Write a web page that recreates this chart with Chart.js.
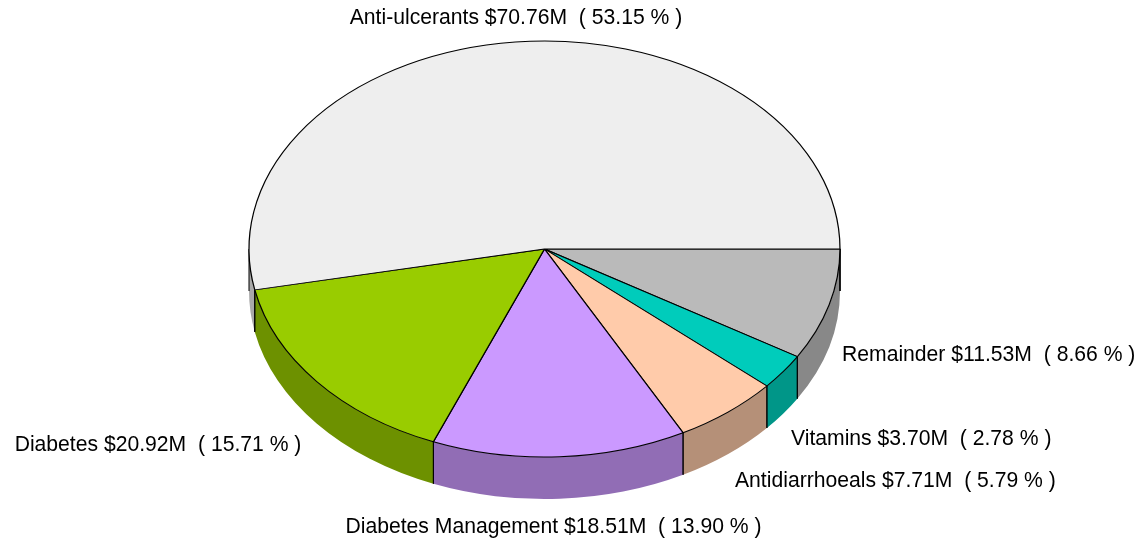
<!DOCTYPE html>
<html><head><meta charset="utf-8">
<style>html,body{margin:0;padding:0;background:#fff}canvas{display:block}</style>
<script src="https://cdn.jsdelivr.net/npm/chart.js@4"></script></head>
<body><div style="width:1144px;height:546px"><canvas id="c" width="1144" height="546"></canvas></div>
<script>
const categories=["Remainder","Vitamins","Antidiarrhoeals","Diabetes Management","Diabetes","Anti-ulcerants"];
const salesMillions=[11.53,3.70,7.71,18.51,20.92,70.76];
const shareLabels=["8.66","2.78","5.79","13.90","15.71","53.15"];
const topColors=["#bababa","#00ccbb","#ffcbaa","#cb99ff","#99cc00","#eeeeee"];
const sideColors=["#888888","#009688","#b59078","#916db5","#6d9100","#a9a9a9"];
const labelAnchors=[[842,355,"left"],[791,439,"left"],[735,481,"left"],[553.5,527,"center"],[158,445,"center"],[516,18,"center"]];
const squash=0.704, depth=42;
const radiusPx=295.5;

function squashAbout(ctx,a){ctx.translate(a.x,a.y);ctx.scale(1,squash);ctx.translate(-a.x,-a.y);}
const pie3d={
  id:'pie3d',
  beforeDatasetsDraw(chart){
    const ctx=chart.ctx, arcs=chart.getDatasetMeta(0).data;
    ctx.save();
    const edges=[];
    arcs.forEach((a,i)=>{
      const p=a.getProps(['x','y','startAngle','endAngle','outerRadius'],true);
      const r=p.outerRadius, ry=r*squash;
      [[0,Math.PI],[2*Math.PI,3*Math.PI]].forEach(([lo,hi])=>{
        const u=Math.max(p.startAngle,lo), v=Math.min(p.endAngle,hi);
        if(v<=u) return;
        ctx.beginPath();
        ctx.ellipse(p.x,p.y,r,ry,0,u,v);
        ctx.ellipse(p.x,p.y+depth,r,ry,0,v,u,true);
        ctx.closePath();
        ctx.fillStyle=sideColors[i];ctx.fill();
        edges.push([p,u],[p,v]);
      });
    });
    ctx.strokeStyle='#000';ctx.lineWidth=1;
    edges.forEach(([p,t])=>{
      const x=p.x+p.outerRadius*Math.cos(t), y=p.y+p.outerRadius*squash*Math.sin(t);
      ctx.beginPath();ctx.moveTo(x,y);ctx.lineTo(x,y+depth);ctx.stroke();
    });
    ctx.restore();
    ctx.save();
    squashAbout(ctx,arcs[0]);
  },
  afterDatasetsDraw(chart){
    const ctx=chart.ctx;
    ctx.restore();
    ctx.save();
    ctx.font='21.15px "Liberation Sans"';
    ctx.fillStyle='#000';ctx.textBaseline='middle';
    categories.forEach((c,i)=>{
      const [x,y,al]=labelAnchors[i];
      ctx.textAlign=al;
      ctx.fillText(c+' $'+salesMillions[i].toFixed(2)+'M  ( '+shareLabels[i]+' % )',x,y);
    });
    ctx.restore();
  }
};
new Chart(document.getElementById('c'),{
  type:'pie',
  data:{labels:categories,datasets:[{data:salesMillions,backgroundColor:topColors,borderColor:'#000',borderWidth:1.25,borderAlign:'center',clip:false}]},
  options:{responsive:false,animation:false,rotation:90,radius:radiusPx,
    layout:{padding:{left:1,right:56,top:0,bottom:48}},
    events:[],
    plugins:{legend:{display:false},tooltip:{enabled:false},title:{display:false}}},
  plugins:[pie3d]
});
</script></body></html>
